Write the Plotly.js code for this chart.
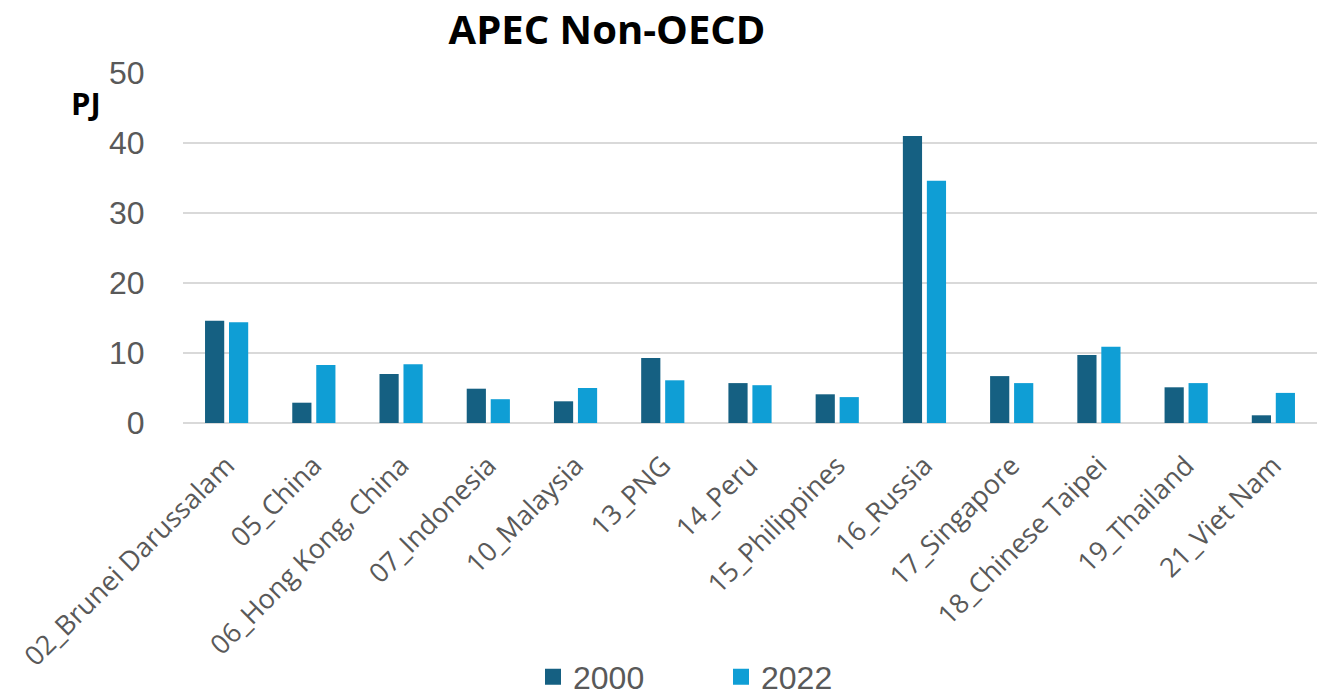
<!DOCTYPE html>
<html>
<head>
<meta charset="utf-8">
<script src="https://cdn.plot.ly/plotly-3.0.1.min.js"></script>
<style>html,body{margin:0;padding:0;background:#fff;}#chart{width:1317px;height:695px;}</style>
</head>
<body>
<div id="chart"></div>
<script>
const categories = ["02_Brunei Darussalam","05_China","06_Hong Kong, China","07_Indonesia","10_Malaysia","13_PNG","14_Peru","15_Philippines","16_Russia","17_Singapore","18_Chinese Taipei","19_Thailand","21_Viet Nam"];
const values2000 = [14.6, 2.9, 7.0, 4.9, 3.1, 9.3, 5.7, 4.1, 41.0, 6.7, 9.7, 5.1, 1.1];
const values2022 = [14.4, 8.3, 8.4, 3.4, 5.0, 6.1, 5.4, 3.7, 34.6, 5.7, 10.9, 5.7, 4.3];
const yTicks = [0, 10, 20, 30, 40, 50];
const seriesNames = ['2000', '2022'];
const seriesColors = ['#156082', '#0F9ED5'];

const traces = [
  {type:'bar', name:seriesNames[0], x:categories, y:values2000, marker:{color:seriesColors[0]}, showlegend:false},
  {type:'bar', name:seriesNames[1], x:categories, y:values2022, marker:{color:seriesColors[1]}, showlegend:false},
  {type:'scatter', mode:'markers', name:seriesNames[0], x:[null], y:[null], marker:{symbol:'square', size:20, color:seriesColors[0]}},
  {type:'scatter', mode:'markers', name:seriesNames[1], x:[null], y:[null], marker:{symbol:'square', size:20, color:seriesColors[1]}}
];
const layout = {
  width:1317, height:695,
  margin:{l:183, r:0, t:73, b:272},
  paper_bgcolor:'#fff', plot_bgcolor:'#fff',
  barmode:'group', bargap:0.45, bargroupgap:0.2,
  title:{text:'<b>APEC Non-OECD</b>', font:{family:'Open Sans, sans-serif', size:40, color:'#000'}, x:607/1317, xanchor:'center', y:(695-30)/695, yanchor:'middle', xref:'container', yref:'container'},
  xaxis:{tickangle:-45, tickfont:{family:'Open Sans, sans-serif', size:27, color:'#595959'}, showgrid:false, showline:false, ticks:'outside', ticklen:15, tickcolor:'rgba(0,0,0,0)', automargin:false},
  yaxis:{range:[0,50], tickvals:yTicks, tickfont:{family:'Liberation Sans, Arial, sans-serif', size:32, color:'#595959'}, gridcolor:'#d9d9d9', gridwidth:1.5, zeroline:true, zerolinecolor:'#d9d9d9', zerolinewidth:1.5, ticks:'outside', ticklen:31, tickcolor:'rgba(0,0,0,0)', automargin:false},
  showlegend:true,
  legend:{orientation:'h', x:(721-183)/1134, xanchor:'center', yref:'container', y:(695-677)/695, yanchor:'middle', font:{family:'Liberation Sans, Arial, sans-serif', size:32, color:'#595959'}, entrywidth:143, traceorder:'normal', itemclick:false},
  annotations:[{text:'<b>PJ</b>', xref:'paper', yref:'paper', x:-(183-86)/1134, y:(423-103)/350, xanchor:'center', yanchor:'middle', showarrow:false, font:{family:'Open Sans, sans-serif', size:31, color:'#000'}}]
};
Plotly.newPlot('chart', traces, layout, {displayModeBar:false});
</script>
</body>
</html>
